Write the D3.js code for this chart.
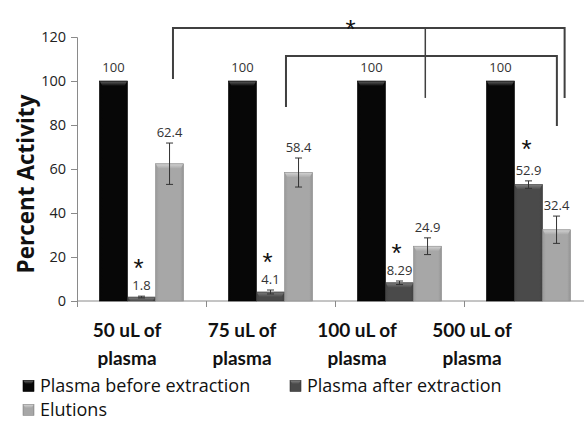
<!DOCTYPE html>
<html><head><meta charset="utf-8">
<script src="https://cdn.jsdelivr.net/npm/d3@7"></script>
<style>
html,body{margin:0;padding:0;background:#fff;}
svg{display:block;font-family:"Open Sans",sans-serif;}
</style></head>
<body>
<script>
// ---------- data ----------
const categories = ["50 uL of plasma", "75 uL of plasma", "100 uL of plasma", "500 uL of plasma"];
const categoryLines = [["50 uL of", "plasma"], ["75 uL of", "plasma"], ["100 uL of", "plasma"], ["500 uL of", "plasma"]];
const seriesNames = ["Plasma before extraction", "Plasma after extraction", "Elutions"];
const beforeValues = [100, 100, 100, 100];
const beforeErrors = [0, 0, 0, 0];
const afterValues = [1.8, 4.1, 8.29, 52.9];
const afterErrors = [0.4, 0.9, 0.8, 1.7];
const elutionValues = [62.4, 58.4, 24.9, 32.4];
const elutionErrors = [9.4, 6.6, 3.8, 6.2];
const yTicks = [0, 20, 40, 60, 80, 100, 120];
const afterStars = [true, true, true, true];
// significance brackets: [category index, fraction across band] anchors, bar height, leg ends (value units)
const bracketTop = {left: [0, 0.744], mid: [2, 0.70], right: [3, 0.78], y: 124.1, leftEnd: 100.9, midEnd: 92.3, rightEnd: 92.3, starAt: [2, 0.12]};
const bracketLow = {left: [1, 0.62], right: [3, 0.72], y: 111.4, leftEnd: 88.2, rightEnd: 79.5};

const W = 584, H = 421;
const svg = d3.select("body").append("svg").attr("width", W).attr("height", H);

const series = [
  {name: seriesNames[0], values: beforeValues, errors: beforeErrors, color: "#070707", cap: "#5a5a5a", edge: "#000"},
  {name: seriesNames[1], values: afterValues, errors: afterErrors, color: "#4a4a4a", cap: "#7a7a7a", edge: "#333"},
  {name: seriesNames[2], values: elutionValues, errors: elutionErrors, color: "#a7a7a7", cap: "#cfcfcf", edge: "#8c8c8c"}
];

const x0 = d3.scaleBand().domain(categories).range([77, 593]).padding(0);
const x1 = d3.scaleBand().domain(seriesNames).range([0, x0.bandwidth()]).paddingInner(0).paddingOuter(0.8);
const y = d3.scaleLinear().domain([0, 120]).range([301, 37]);
const xLabel = d3.scaleBand().domain(categories).range([69.5, 529.5]);

// gradients
const defs = svg.append("defs");
series.forEach((s, i) => {
  const g = defs.append("linearGradient").attr("id", "g" + i).attr("x1", 0).attr("x2", 1).attr("y1", 0).attr("y2", 0);
  const c = d3.color(s.color);
  g.append("stop").attr("offset", 0).attr("stop-color", c.darker(0.25));
  g.append("stop").attr("offset", 0.12).attr("stop-color", c);
  g.append("stop").attr("offset", 0.88).attr("stop-color", c);
  g.append("stop").attr("offset", 1).attr("stop-color", c.darker(0.35));
  const t = defs.append("linearGradient").attr("id", "t" + i).attr("x1", 0).attr("x2", 0).attr("y1", 0).attr("y2", 1);
  t.append("stop").attr("offset", 0).attr("stop-color", s.cap);
  t.append("stop").attr("offset", 1).attr("stop-color", s.color);
});

// y axis
const yAxis = svg.append("g").attr("transform", "translate(77,0)")
  .call(d3.axisLeft(y).tickValues(yTicks).tickSize(6).tickPadding(5));
yAxis.select(".domain").attr("stroke", "#8a8a8a");
yAxis.selectAll(".tick line").attr("stroke", "#8a8a8a");
yAxis.selectAll(".tick text").attr("font-size", "14.5px").attr("fill", "#222").attr("font-family", "Open Sans");

// x axis
const xAxisG = svg.append("g");
xAxisG.append("line").attr("x1", 77).attr("x2", W).attr("y1", y(0)).attr("y2", y(0)).attr("stroke", "#8a8a8a");
xAxisG.selectAll("line.tk").data(categories).join("line").attr("class", "tk")
  .attr("x1", d => x0(d) + 0.5).attr("x2", d => x0(d) + 0.5)
  .attr("y1", y(0)).attr("y2", y(0) + 6).attr("stroke", "#8a8a8a");

// bars
const groups = svg.append("g").selectAll("g").data(categories).join("g")
  .attr("transform", d => `translate(${x0(d)},0)`);
series.forEach((s, si) => {
  groups.each(function(cat, ci) {
    const g = d3.select(this);
    const v = s.values[ci];
    const bx = x1(s.name), bw = x1.bandwidth();
    const top = y(v), h = y(0) - y(v);
    g.append("rect").attr("x", bx).attr("y", top).attr("width", bw).attr("height", h)
      .attr("fill", `url(#g${si})`).attr("stroke", s.edge).attr("stroke-width", 0.6);
    const capH = Math.min(5, h);
    if (h > 2) {
      g.append("path")
        .attr("d", `M${bx + 0.5},${top + 0.5} L${bx + bw - 0.5},${top + 0.5} L${bx + bw - 3},${top + capH} L${bx + 3},${top + capH} Z`)
        .attr("fill", `url(#t${si})`);
    }
  });
});

// error bars
series.forEach((s, si) => {
  groups.each(function(cat, ci) {
    const e = s.errors[ci];
    if (!e) return;
    const g = d3.select(this);
    const cx = x1(s.name) + x1.bandwidth() / 2;
    const v = s.values[ci];
    const eb = g.append("g").attr("stroke", "#333").attr("stroke-width", 1);
    eb.append("line").attr("x1", cx).attr("x2", cx).attr("y1", y(v + e)).attr("y2", y(v - e));
    eb.append("line").attr("x1", cx - 3.5).attr("x2", cx + 3.5).attr("y1", y(v + e)).attr("y2", y(v + e));
    eb.append("line").attr("x1", cx - 3.5).attr("x2", cx + 3.5).attr("y1", y(v - e)).attr("y2", y(v - e));
  });
});

// value labels
series.forEach((s, si) => {
  groups.each(function(cat, ci) {
    const g = d3.select(this);
    const v = s.values[ci], e = s.errors[ci];
    const cx = x1(s.name) + x1.bandwidth() / 2;
    g.append("text").attr("x", cx).attr("y", y(v + e) - (e ? 6 : 9))
      .attr("text-anchor", "middle").attr("font-size", "13px").attr("fill", "#333")
      .text(String(v));
  });
});

// stars over "after" bars
groups.each(function(cat, ci) {
  if (!afterStars[ci]) return;
  const s = series[1];
  const v = s.values[ci], e = s.errors[ci];
  const cx = x1(s.name) + x1.bandwidth() / 2;
  const last = ci === categories.length - 1;
  d3.select(this).append("text")
    .attr("x", cx + (last ? -2 : -3))
    .attr("y", y(v + e) - 14)
    .attr("dy", last ? "-0.35em" : "-0.18em")
    .attr("text-anchor", "middle").attr("font-size", "26px").attr("fill", "#111")
    .attr("font-family", "Liberation Sans")
    .text("*");
});

// brackets
const bx = a => x0(categories[a[0]]) + a[1] * x0.bandwidth();
const br = svg.append("g").attr("fill", "none").attr("stroke", "#404040");
br.append("path").attr("stroke-width", 2)
  .attr("d", `M${bx(bracketTop.left)},${y(bracketTop.leftEnd)} V${y(bracketTop.y)} H${bx(bracketTop.right)} V${y(bracketTop.rightEnd)}`);
br.append("path").attr("stroke-width", 1.5)
  .attr("d", `M${bx(bracketTop.mid)},${y(bracketTop.y)} V${y(bracketTop.midEnd)}`);
br.append("path").attr("stroke-width", 2)
  .attr("d", `M${bx(bracketLow.left)},${y(bracketLow.leftEnd)} V${y(bracketLow.y)} H${bx(bracketLow.right)} V${y(bracketLow.rightEnd)}`);
svg.append("text").attr("x", bx(bracketTop.starAt)).attr("y", y(bracketTop.y) + 10)
  .attr("text-anchor", "middle").attr("font-size", "26px").attr("fill", "#111")
  .attr("font-family", "Liberation Sans").text("*");

// y label
svg.append("text").attr("transform", `translate(34,184) rotate(-90)`)
  .attr("text-anchor", "middle").attr("font-size", "22.5px").attr("font-weight", "bold").attr("fill", "#111")
  .text("Percent Activity");

// category labels
categories.forEach((c, i) => {
  const cx = xLabel(c) + xLabel.bandwidth() / 2;
  const t = svg.append("text").attr("x", cx).attr("y", 337)
    .attr("text-anchor", "middle").attr("font-size", "19px").attr("font-weight", "bold").attr("fill", "#111")
    .attr("font-family", "Lato");
  categoryLines[i].forEach((ln, k) => t.append("tspan").attr("x", cx).attr("dy", k ? 28 : 0).text(ln));
});

// legend
const legendPos = [[23, 386], [290, 386], [23, 410]];
series.forEach((s, si) => {
  const [lx, ly] = legendPos[si];
  const lg = svg.append("g").attr("transform", `translate(${lx},${ly})`);
  lg.append("rect").attr("x", 0).attr("y", -5.5).attr("width", 11).attr("height", 11)
    .attr("fill", `url(#g${si})`).attr("stroke", s.edge).attr("stroke-width", 0.6);
  lg.append("path").attr("d", "M0.5,-5 L10.5,-5 L8.5,-2 L2.5,-2 Z").attr("fill", `url(#t${si})`);
  lg.append("text").attr("x", 17).attr("y", 0).attr("dy", "0.36em")
    .attr("font-size", "18px").attr("fill", "#111").text(s.name);
});
</script>
</body></html>
